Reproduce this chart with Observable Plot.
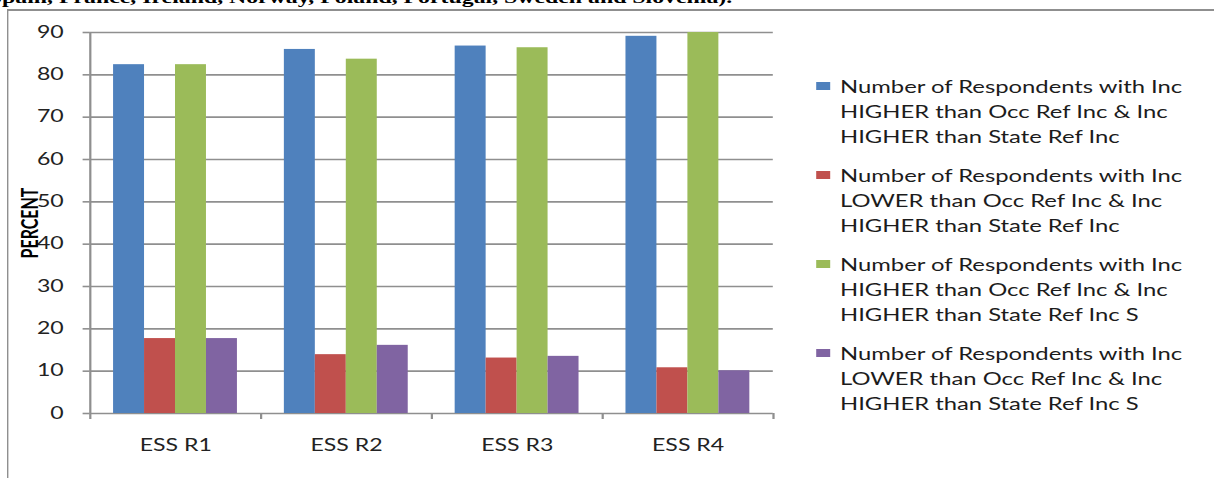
<!DOCTYPE html>
<html>
<head>
<meta charset="utf-8">
<script src="https://cdn.jsdelivr.net/npm/d3@7"></script>
<script src="https://cdn.jsdelivr.net/npm/@observablehq/plot@0.6"></script>
<style>
  html, body { margin: 0; padding: 0; background: #fff; overflow: hidden; }
  /* the whole figure is laid out narrow and stretched sideways */
  #page { position: relative; width: 868px; height: 478px; transform: scaleX(1.4); transform-origin: 0 0; font-family: Lato, sans-serif; }
  #heading { position: absolute; left: -8px; top: -11px; font: bold 17px/1 "Liberation Serif", serif; white-space: nowrap; color: #000; }
  #box { position: absolute; left: 5px; top: 9px; right: -20px; bottom: -20px; border-top: 2px solid #8f8f8f; border-left: 1.5px solid #8f8f8f; }
  #chart { position: absolute; left: 0; top: 0; }
  #chart svg [aria-label="y-axis label"] text { font-weight: 700; font-size: 16px; fill: #000; }
  #legend { position: absolute; left: 583px; top: 74px; }
  .item { position: relative; padding-left: 17px; margin-bottom: 14px; font-size: 17px; line-height: 25px; white-space: pre; color: #1c1c1c; }
  .sw { position: absolute; left: 0; top: 8px; width: 10px; height: 8px; }
</style>
</head>
<body>
<div id="page">
  <div id="heading">Spain, France, Ireland, Norway, Poland, Portugal, Sweden and Slovenia).</div>
  <div id="box"></div>
  <div id="chart"></div>
  <div id="legend"></div>
</div>
<script>
// ESS rounds on the x axis
const rounds = ["ESS R1", "ESS R2", "ESS R3", "ESS R4"];

// percent of respondents per round, one array per series
const higherOccHigherState = [82.4, 86.0, 86.8, 89.1];
const lowerOccHigherState = [17.7, 13.9, 13.1, 10.8];
const higherOccHigherStateS = [82.4, 83.7, 86.4, 90.0];
const lowerOccHigherStateS = [17.7, 16.1, 13.5, 10.1];

const seriesLabels = [
  "Number of Respondents with Inc\nHIGHER than Occ Ref Inc & Inc\nHIGHER than State Ref Inc",
  "Number of Respondents with Inc\nLOWER than Occ Ref Inc & Inc\nHIGHER than State Ref Inc",
  "Number of Respondents with Inc\nHIGHER than Occ Ref Inc & Inc\nHIGHER than State Ref Inc S",
  "Number of Respondents with Inc\nLOWER than Occ Ref Inc & Inc\nHIGHER than State Ref Inc S"
];
const seriesColors = ["#4f81bd", "#c0504d", "#9bbb59", "#8064a2"];
const yTicks = [0, 10, 20, 30, 40, 50, 60, 70, 80, 90];

const seriesValues = [higherOccHigherState, lowerOccHigherState, higherOccHigherStateS, lowerOccHigherStateS];

const W = 570, H = 478, mL = 64, mR = 18, mT = 32, mB = 65;
const step = (W - mL - mR) / rounds.length;   // width of one round's band
const barW = step * 0.1813;                     // width of a single bar
const gap = (step - barW * seriesValues.length) / 2;
const gridColor = "#8f8f8f";

// one bar mark per series, placed side by side inside each round's band
const barMarks = seriesValues.map((vals, i) =>
  Plot.barY(rounds.map((r, j) => ({round: r, value: vals[j]})), {
    x: "round",
    y: "value",
    fill: seriesColors[i],
    insetLeft: gap + i * barW,
    insetRight: step - gap - (i + 1) * barW
  })
);

const chart = Plot.plot({
  width: W,
  height: H,
  marginLeft: mL,
  marginRight: mR,
  marginTop: mT,
  marginBottom: mB,
  style: {fontFamily: "Lato, sans-serif", fontSize: "16.5px", color: "#222", background: "transparent", overflow: "visible"},
  x: {domain: rounds, padding: 0, axis: null},
  y: {domain: [0, 90], axis: null},
  marks: [
    Plot.gridY(yTicks, {stroke: gridColor, strokeOpacity: 1, strokeWidth: 1.6}),
    ...barMarks,
    Plot.axisY(yTicks, {
      tickSize: 5, tickPadding: 14, stroke: gridColor, strokeWidth: 1.6,
      label: "PERCENT", labelAnchor: "center", labelOffset: 49, labelArrow: "none"
    }),
    Plot.axisX({tickSize: 0, tickPadding: 26, label: null}),
    // vertical axis line
    Plot.ruleX([rounds[0]], {x: d => d, y1: 0, y2: 90, dx: -step / 2, stroke: gridColor, strokeWidth: 1.6}),
    // tick marks between rounds
    Plot.ruleX(rounds, {x: d => d, y1: 0, y2: 0, insetTop: 0, insetBottom: -6, dx: -step / 2, stroke: gridColor, strokeWidth: 1.6}),
    Plot.ruleX([rounds[rounds.length - 1]], {x: d => d, y1: 0, y2: 0, insetTop: 0, insetBottom: -6, dx: step / 2, stroke: gridColor, strokeWidth: 1.6})
  ]
});
document.getElementById("chart").appendChild(chart);

// legend on the right
const legend = d3.select("#legend");
seriesLabels.forEach((label, i) => {
  const item = legend.append("div").attr("class", "item");
  item.append("span").attr("class", "sw").style("background", seriesColors[i]);
  item.append("span").text(label);
});
</script>
</body>
</html>
